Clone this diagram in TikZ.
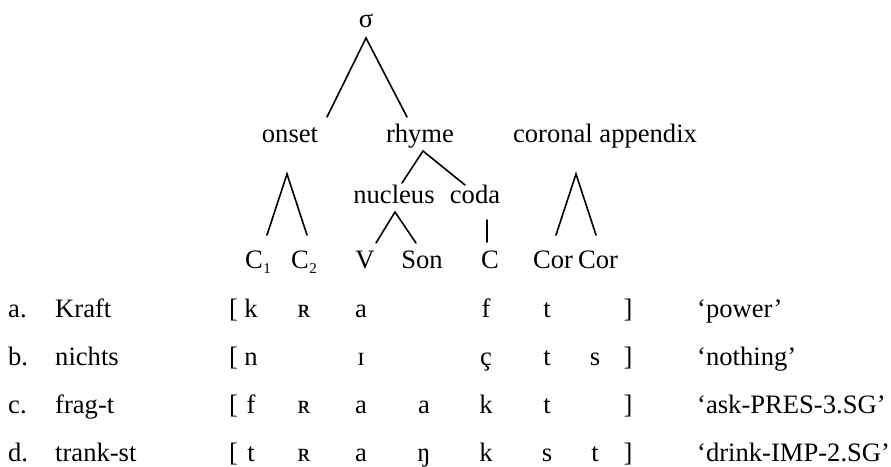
\documentclass[tikz,border=0pt]{standalone}
\usepackage{fontspec}
\setmainfont{Liberation Serif}
\newcommand{\subnum}[1]{\kern0.5pt\raisebox{-5pt}{\fontsize{15}{15}\selectfont #1}}
\begin{document}
\begin{tikzpicture}[x=1pt,y=-1pt,
  lbl/.style={inner sep=0pt, anchor=base, font=\fontsize{26.6}{30}\selectfont},
  lft/.style={lbl, anchor=base west},
  br/.style={line width=1.6pt, line cap=round}]
\useasboundingbox (0,0) rectangle (891,466);
% tree labels
\node[lbl] (sig) at (366,27) {σ};
\node[lbl] (onset) at (290,142) {onset};
\node[lbl] (rhyme) at (420,142) {rhyme};
\node[lbl] (corapp) at (605,142) {coronal appendix};
\node[lbl] (nucleus) at (394,203) {nucleus};
\node[lbl] (coda) at (475,203) {coda};
\node[lbl] (c1) at (258,268) {C\subnum{1}};
\node[lbl] (c2) at (304,268) {C\subnum{2}};
\node[lbl] (v) at (365,268) {V};
\node[lbl] (son) at (422,268) {Son};
\node[lbl] (cc) at (490,268) {C};
\node[lbl] (cor1) at (553,268) {Cor};
\node[lbl] (cor2) at (598,268) {Cor};
% branch points
\coordinate (sigA) at (366,38);
\coordinate (sigL) at (327,117);
\coordinate (sigR) at (407,117);
\coordinate (rhA) at (423,151);
\coordinate (rhL) at (402,183);
\coordinate (rhR) at (465,185);
\coordinate (onA) at (287,174);
\coordinate (onL) at (267,235);
\coordinate (onR) at (307,235);
\coordinate (nuA) at (395,212);
\coordinate (nuL) at (376,243);
\coordinate (nuR) at (416,243);
\coordinate (coT) at (487,220);
\coordinate (coB) at (487,242);
\coordinate (caA) at (576,174);
\coordinate (caL) at (556,235);
\coordinate (caR) at (596,235);
\draw[br] (sigL) -- (sigA) -- (sigR);
\draw[br] (rhL) -- (rhA) -- (rhR);
\draw[br] (onL) -- (onA) -- (onR);
\draw[br] (nuL) -- (nuA) -- (nuR);
\draw[br] (coT) -- (coB);
\draw[br] (caL) -- (caA) -- (caR);
% rows
\foreach \y/\lab/\word/\a/\b/\c/\d/\e/\f/\g/\gl/\n in {
  317/a./Kraft/k/ʀ/a//f/t//‘power’/ra,
  365/b./nichts/n//ɪ//ç/t/s/‘nothing’/rb,
  413/c./frag-t/f/ʀ/a/a/k/t//‘ask-PRES-3.SG’/rc,
  461/d./trank-st/t/ʀ/a/ŋ/k/s/t/‘drink-IMP-2.SG’/rd}{
  \node[lft] (\n lab) at (8,\y) {\lab};
  \node[lft] (\n word) at (55,\y) {\word};
  \node[lft] (\n open) at (229,\y) {[};
  \node[lbl] (\n c1) at (251,\y) {\a};
  \node[lbl] (\n c2) at (304,\y) {\b};
  \node[lbl] (\n c3) at (361,\y) {\c};
  \node[lbl] (\n c4) at (424,\y) {\d};
  \node[lbl] (\n c5) at (486,\y) {\e};
  \node[lbl] (\n c6) at (547,\y) {\f};
  \node[lbl] (\n c7) at (595,\y) {\g};
  \node[lbl] (\n close) at (628,\y) {]};
  \node[lft] (\n gloss) at (697,\y) {\gl};
}
\end{tikzpicture}
\end{document}
